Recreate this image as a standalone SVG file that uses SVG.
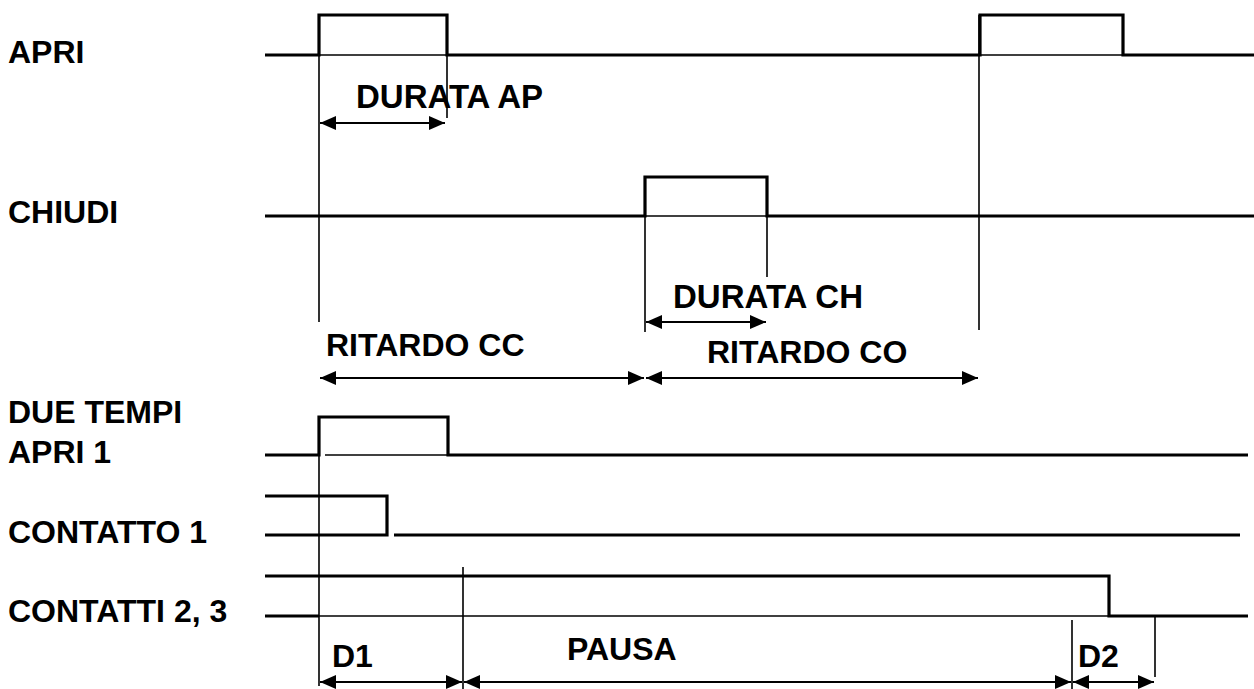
<svg xmlns="http://www.w3.org/2000/svg" width="1254" height="689" viewBox="0 0 1254 689">
<style>
text{font-family:"Liberation Sans",Arial,sans-serif;font-weight:bold;font-size:32px;fill:#000}
text.w{font-size:33px}
.sig{fill:none;stroke:#000;stroke-width:3.2;stroke-linejoin:miter}
.thin{fill:none;stroke:#000;stroke-width:1.6}
.dim{fill:none;stroke:#000;stroke-width:1.8;marker-start:url(#ah);marker-end:url(#ah)}
</style>
<defs>
<marker id="ah" viewBox="0 0 16 14" markerWidth="16" markerHeight="14" refX="16" refY="7" orient="auto-start-reverse" markerUnits="userSpaceOnUse">
<path d="M0,0 L16,7 L0,14 Z" fill="#000"/>
</marker>
</defs>
<rect width="1254" height="689" fill="#fff"/>

<g id="apri">
<text x="8" y="63">APRI</text>
<path class="sig" d="M265,55 H319 V15 H447 V55 H980 V15 H1123 V55 H1254"/>
<path class="thin" d="M319,55 H447 M980,55 H1123"/>
</g>

<g id="chiudi">
<text x="8" y="223">CHIUDI</text>
<path class="sig" d="M265,216 H645 V177 H767 V216 H1254"/>
<path class="thin" d="M645,216 H767"/>
</g>

<g id="due-tempi">
<text x="8" y="423">DUE TEMPI</text>
<text x="8" y="463">APRI 1</text>
<path class="sig" d="M265,455 H319 V417 H448 V455 H1248"/>
<path class="thin" d="M325,455 H448"/>
</g>

<g id="contatto1">
<text x="8" y="543">CONTATTO 1</text>
<path class="sig" d="M265,496 H387 V535 H265 M394,535 H1240"/>
</g>

<g id="contatti23">
<text x="8" y="622">CONTATTI 2, 3</text>
<path class="sig" d="M265,576 H1109 V616 H1248 M265,616 H319"/>
<path class="thin" d="M319,616 H1109"/>
</g>

<g id="connectors">
<path class="thin" d="M319,15 V322 M319,417 V686 M447,55 V118 M645,177 V332 M767,216 V277 M979,15 V330 M463,567 V689 M1072,620 V689 M1155,616 V677"/>
<path class="dim" d="M320,123 H445"/>
<path class="dim" d="M646,322 H766"/>
<path class="dim" d="M320,378 H644"/>
<path class="dim" d="M646,378 H978"/>
<path class="dim" d="M320,682 H462"/>
<path class="dim" d="M464,682 H1071"/>
<path class="dim" d="M1073,682 H1154"/>
</g>

<g id="labels">
<text class="w" x="356" y="108">DURATA AP</text>
<text class="w" x="673" y="308">DURATA CH</text>
<text x="326" y="356">RITARDO CC</text>
<text x="707" y="363">RITARDO CO</text>
<text x="332" y="667">D1</text>
<text x="567" y="660">PAUSA</text>
<text x="1078" y="667">D2</text>
</g>
</svg>
